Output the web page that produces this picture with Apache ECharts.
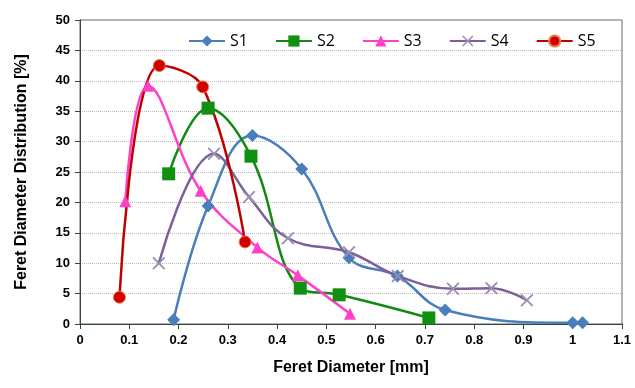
<!DOCTYPE html>
<html>
<head>
<meta charset="utf-8">
<script src="https://cdn.jsdelivr.net/npm/echarts@6/dist/echarts.min.js"></script>
<style>
  html, body { margin: 0; padding: 0; background: #fff; }
  #chart { width: 635px; height: 388px; }
</style>
</head>
<body>
<div id="chart"></div>
<script>
// [diameter mm, distribution %]
const s1 = [[0.19, 0.7], [0.26, 19.4], [0.35, 31.0], [0.45, 25.5], [0.546, 10.9], [0.644, 7.9], [0.741, 2.3], [1.0, 0.2], [1.02, 0.2]];
const s2 = [[0.18, 24.7], [0.26, 35.5], [0.347, 27.6], [0.447, 5.9], [0.526, 4.8], [0.708, 1.0]];
const s3 = [[0.092, 20.2], [0.138, 39.2], [0.245, 21.9], [0.36, 12.6], [0.442, 8.0], [0.548, 1.7]];
const s4 = [[0.16, 10.0], [0.272, 28.0], [0.343, 20.9], [0.422, 14.1], [0.546, 11.8], [0.645, 7.9], [0.757, 5.8], [0.835, 5.9], [0.907, 3.9]];
const s5 = [[0.08, 4.4], [0.161, 42.5], [0.249, 39.0], [0.335, 13.5]];

const seriesNames = ['S1', 'S2', 'S3', 'S4', 'S5'];

const font = 'Liberation Sans';
const crossPath = 'path://M0,1L1,0L5,4L9,0L10,1L6,5L10,9L9,10L5,6L1,10L0,9L4,5Z';

const mkLine = (name, data, color, symbol, size, markColor, border) => ({
  name: name,
  type: 'line',
  data: data,
  smooth: 0.4,
  symbol: symbol,
  symbolSize: size,
  showSymbol: true,
  lineStyle: { color: color, width: 2.5 },
  itemStyle: {
    color: markColor,
    borderColor: border || markColor,
    borderWidth: border ? 1 : 0,
  },
  z: 3,
});

const chart = echarts.init(document.getElementById('chart'));

chart.setOption({
  animation: false,
  backgroundColor: '#fff',
  grid: {
    left: 80,
    right: 13,
    top: 20,
    bottom: 64,
    show: true,
    borderColor: '#666',
    borderWidth: 1,
  },
  legend: {
    data: seriesNames,
    left: 183,
    top: 28,
    itemWidth: 36,
    itemHeight: 14,
    itemGap: 27,
    textStyle: { fontFamily: 'Open Sans', fontSize: 16, color: '#000' },
  },
  xAxis: {
    type: 'value',
    min: 0,
    max: 1.1,
    interval: 0.1,
    name: 'Feret Diameter [mm]',
    nameLocation: 'middle',
    nameGap: 36,
    nameTextStyle: { fontFamily: font, fontSize: 16, fontWeight: 'bold', color: '#000' },
    axisLine: { lineStyle: { color: '#2f4a3a', width: 1 } },
    axisTick: { show: true, length: 5, lineStyle: { color: '#2f4a3a' } },
    axisLabel: {
      fontFamily: font,
      fontSize: 13,
      fontWeight: 'bold',
      color: '#000',
      margin: 10,
      formatter: (v) => String(Math.round(v * 10) / 10),
    },
    splitLine: { show: false },
  },
  yAxis: {
    type: 'value',
    min: 0,
    max: 50,
    interval: 5,
    name: 'Feret Diameter Distribution [%]',
    nameLocation: 'middle',
    nameGap: 50,
    nameTextStyle: { fontFamily: font, fontSize: 16, fontWeight: 'bold', color: '#000' },
    axisLine: { show: true, lineStyle: { color: '#2f4a3a', width: 1 } },
    axisTick: { show: true, length: 5, lineStyle: { color: '#2f4a3a' } },
    axisLabel: {
      fontFamily: font,
      fontSize: 13,
      fontWeight: 'bold',
      color: '#000',
      margin: 10,
    },
    splitLine: { show: true, lineStyle: { color: '#bbb', type: 'dotted', width: 1 } },
  },
  series: [
    mkLine('S1', s1, '#4a7ebb', 'diamond', 13, '#4a7ebb'),
    mkLine('S2', s2, '#108a10', 'rect', 13, '#109010'),
    mkLine('S3', s3, '#ff40c8', 'triangle', 12, '#ff40c8'),
    mkLine('S4', s4, '#7d5f9a', crossPath, 13, '#9d8db5'),
    mkLine('S5', s5, '#c00000', 'circle', 12, '#d00000', '#f07a50'),
  ],
});
</script>
</body>
</html>
